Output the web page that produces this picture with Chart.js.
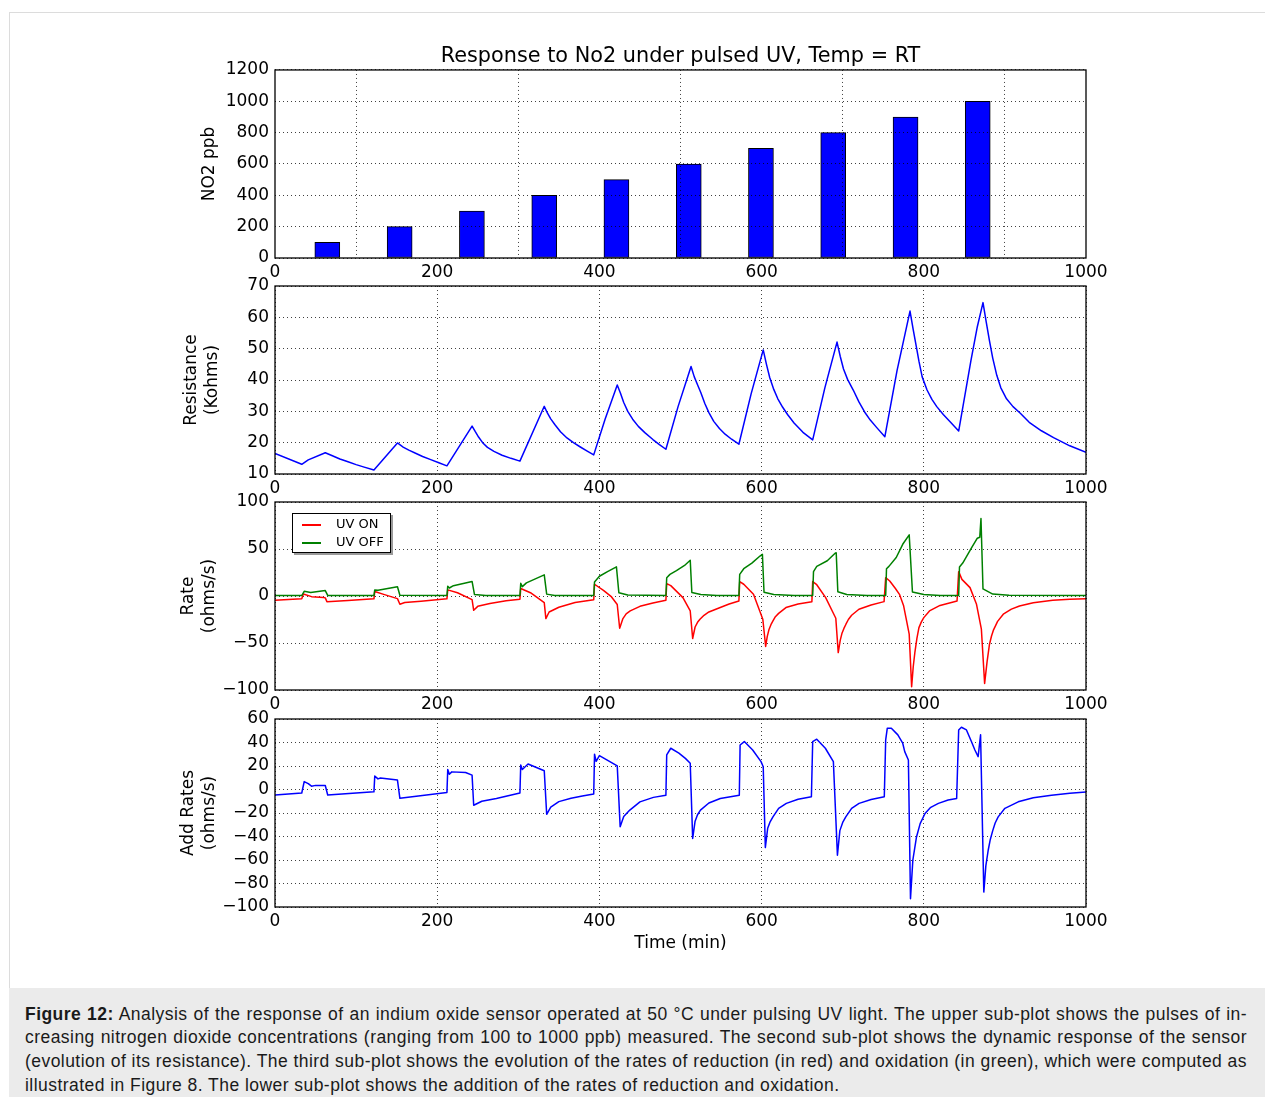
<!DOCTYPE html>
<html>
<head>
<meta charset="utf-8">
<script src="https://cdn.jsdelivr.net/npm/chart.js@4.4.0/dist/chart.umd.min.js"></script>
<style>
  body { margin: 0; background: #fff; width: 1265px; height: 1097px; position: relative; overflow: hidden; font-family: 'DejaVu Sans', sans-serif; }
  #frame { position: absolute; left: 9px; top: 12px; width: 1262px; height: 977px; border: 1px solid #dcdcdc; box-sizing: border-box; }
  canvas { position: absolute; left: 0; }
  #legend { position: absolute; left: 292px; top: 513px; width: 99px; height: 40px; box-sizing: border-box; border: 1px solid #000; background: #fff; box-shadow: 2px 2px 0 #9a9a9a; font-size: 13px; color: #000; }
  #legend .row { position: absolute; left: 0; width: 95px; height: 16px; line-height: 16px; }
  #legend .sw { position: absolute; left: 9px; top: 8px; width: 19px; height: 1.5px; }
  #legend .lb { position: absolute; left: 43px; top: 0; white-space: nowrap; }
  #caption { position: absolute; left: 9px; top: 988px; width: 1256px; height: 109px; background: #ebebeb; font-family: 'Liberation Sans', Arial, sans-serif; font-size: 17.5px; letter-spacing: 0.45px; color: #1a1a1a; }
  #caption .ln { position: absolute; left: 16px; width: 1222px; height: 24px; line-height: 24px; white-space: nowrap; }
  #caption .j { text-align: justify; text-align-last: justify; }
</style>
</head>
<body>
<div id="frame"></div>
<canvas id="c1" width="1265" height="248" style="top:40px"></canvas>
<canvas id="c2" width="1265" height="238" style="top:266px"></canvas>
<canvas id="c3" width="1265" height="238" style="top:482px"></canvas>
<canvas id="c4" width="1265" height="255" style="top:699px"></canvas>
<div id="legend">
  <div class="row" style="top:2px"><div class="sw" style="background:#ff0000"></div><span class="lb">UV ON</span></div>
  <div class="row" style="top:20px"><div class="sw" style="background:#008000"></div><span class="lb">UV OFF</span></div>
</div>
<div id="caption">
  <div class="ln j" style="top:14px"><b>Figure 12:</b> Analysis of the response of an indium oxide sensor operated at 50 °C under pulsing UV light. The upper sub-plot shows the pulses of in-</div>
  <div class="ln j" style="top:37px">creasing nitrogen dioxide concentrations (ranging from 100 to 1000 ppb) measured. The second sub-plot shows the dynamic response of the sensor</div>
  <div class="ln j" style="top:61px">(evolution of its resistance). The third sub-plot shows the evolution of the rates of reduction (in red) and oxidation (in green), which were computed as</div>
  <div class="ln" style="top:85px">illustrated in Figure 8. The lower sub-plot shows the addition of the rates of reduction and oxidation.</div>
</div>
<script>
// NO2 pulses: centre of each pulse (min) and concentration (ppb)
const pulseTime = [64.5, 153.7, 242.8, 332, 421, 510.2, 599.2, 688.3, 777.5, 866.5];
const no2Ppb = [100, 200, 300, 400, 500, 600, 700, 800, 900, 1000];

// sensor resistance, [time (min), Kohms]
const resistance = [
  [0, 16.6], [33, 13.1], [41, 14.5], [62, 16.8], [70, 15.9], [80, 14.8], [90, 13.9], [100, 13.0], [110, 12.2], [122, 11.3],
  [151, 19.9], [158, 18.6], [165, 17.6], [172, 16.8], [182, 15.6], [192, 14.6], [202, 13.6], [212, 12.6],
  [243, 25.3], [247, 23.5], [251, 21.8], [256, 20.0], [262, 18.5], [270, 17.2], [280, 16.0], [291, 15.0], [302, 14.1],
  [332, 31.6], [336, 29.4], [340, 27.6], [345, 25.8], [352, 23.5], [360, 21.5], [368, 20.0], [376, 18.7], [385, 17.3], [393, 16.1],
  [407, 27.5], [422, 38.4], [426, 35.8], [430, 32.8], [435, 30.0], [441, 27.5], [448, 25.2], [456, 23.2], [466, 21.0], [474, 19.4], [482, 17.9],
  [497, 31.5], [513, 44.3], [517, 41.0], [521, 38.5], [525, 36.0], [530, 32.5], [535, 29.6], [541, 26.8], [548, 24.5], [555, 22.7], [563, 21.1], [572, 19.5],
  [587, 35.5], [602, 49.6], [606, 45.0], [610, 40.8], [615, 37.0], [620, 34.0], [626, 31.3], [632, 29.0], [640, 26.3], [651, 23.3], [663, 20.9],
  [678, 37.5], [693, 52.1], [697, 47.5], [701, 43.5], [706, 40.2], [713, 36.8], [720, 33.0], [727, 29.8], [734, 27.2], [742, 24.8], [752, 21.9],
  [767, 43.0], [783, 62.0], [787, 56.0], [791, 50.3], [794, 46.0], [798, 41.0], [804, 36.8], [810, 33.8], [816, 31.5], [824, 29.0], [833, 26.5], [843, 23.7],
  [858, 46.0], [866, 57.0], [873, 64.7], [877, 58.5], [881, 52.5], [885, 47.0], [890, 41.5], [895, 37.5], [902, 34.0], [910, 31.5], [919, 29.4],
  [930, 26.5], [945, 23.8], [960, 21.6], [980, 19.0], [1000, 16.9]
];

// reduction rate under UV (red), [time, ohms/s]
const uvOn = [
  [0, -4.6], [33, -3.0], [35, 2.2], [45, -0.7], [60, -1.5], [62, -2.0], [64, -6.0], [90, -4.8], [122, -3.0],
  [123, 4.8], [135, 1.5], [151, -2.8], [154, -8.8], [160, -7.0], [180, -5.5], [212, -3.0],
  [213, 6.5], [225, 3.5], [243, -3.9], [245, -15.2], [250, -11.0], [265, -8.0], [285, -5.0], [302, -3.5],
  [303, 8.0], [315, 3.5], [332, -7.0], [334, -24.0], [338, -17.0], [350, -12.0], [370, -7.0], [393, -4.0],
  [394, 12.5], [405, 6.0], [415, -1.0], [422, -9.0], [425, -34.3], [429, -24.0], [433, -19.0], [438, -15.9], [450, -11.0], [466, -7.5], [482, -4.6],
  [483, 13.1], [488, 11.0], [503, -1.7], [512, -15.9], [515, -45.2], [518, -33.0], [521, -28.0], [524, -24.8], [529, -20.5], [535, -17.0], [549, -12.3], [560, -8.5], [572, -5.3],
  [573, 15.3], [578, 12.5], [590, 1.8], [601.5, -24.7], [605, -53.7], [607, -43.0], [609, -36.0], [611.5, -30.5], [614, -26.5], [617, -22.0], [621, -18.5], [630, -12.3], [645, -8.5], [662, -6.0],
  [663, 15.3], [668, 12.0], [679, -1.7], [691.5, -23.7], [694.5, -60.2], [697, -47.0], [699, -40.0], [701.5, -34.5], [704, -30.0], [707, -25.0], [711, -20.5], [720, -14.1], [735, -9.5], [751, -6.0],
  [753, 19.5], [758, 16.0], [765, 8.0], [770, 1.8], [775, -10.0], [778, -23.0], [782, -40.6], [785, -96.6], [787, -75.0], [789, -60.0],
  [791.5, -45.0], [794, -33.6], [797, -27.5], [800, -23.0], [807, -15.9], [820, -10.0], [841, -5.3],
  [843, 25.9], [847, 17.7], [857, 8.9], [865, -8.8], [871, -35.3], [875, -93.0], [878, -70.0], [881, -51.3], [883.5, -42.5], [886, -36.0],
  [891, -27.0], [898, -19.4], [908, -14.0], [918, -10.6], [935, -7.2], [959, -4.6], [980, -3.5], [1000, -2.8]
];

// oxidation rate with UV off (green), [time, ohms/s]
const uvOff = [
  [0, 0.5], [33, 0.5], [36, 5.0], [44, 3.8], [62, 5.8], [65, 0.6], [122, 0.5],
  [123, 6.5], [127, 6.0], [151, 9.8], [154, 0.8], [212, 0.5],
  [213, 10.5], [215, 8.5], [220, 11.0], [243, 15.5], [246, 1.5], [260, 0.5], [302, 0.5],
  [303, 13.5], [305, 10.0], [310, 14.0], [332, 22.5], [335, 2.0], [345, 0.5], [393, 0.5],
  [394, 15.0], [400, 21.0], [410, 26.0], [421, 31.0], [424, 3.5], [435, 1.0], [482, 0.5],
  [483, 19.5], [487, 23.0], [495, 27.0], [505, 32.5], [512, 38.0], [514, 3.8], [525, 1.5], [545, 0.5], [572, 0.5],
  [573, 23.0], [578, 29.0], [588, 35.0], [598, 42.5], [601, 44.3], [603, 4.0], [615, 1.5], [640, 0.5], [663, 0.5],
  [664, 26.0], [668, 31.5], [681, 37.5], [690, 45.0], [692, 46.0], [694, 4.5], [705, 1.5], [730, 0.5], [753, 0.5],
  [754, 29.0], [757, 31.5], [766, 41.0], [774, 55.0], [782, 65.0], [786, 4.3], [800, 1.5], [820, 0.5], [843, 0.5],
  [844, 30.8], [848, 35.0], [859, 51.4], [866, 61.5], [869, 62.5], [870.5, 82.5], [873, 7.5], [885, 2.0], [905, 0.8], [1000, 0.5]
];

// sum of both rates (blue), [time, ohms/s]
const addRates = [
  [0, -4.7], [33, -3.0], [36, 6.7], [41, 5.0], [45, 2.8], [50, 3.5], [62, 3.4], [65, -4.7], [122, -2.0],
  [123, 11.4], [127, 9.0], [130, 9.8], [151, 8.0], [154, -7.5], [212, -2.5],
  [213, 17.1], [215, 13.0], [218, 15.0], [235, 14.5], [243, 12.2], [245, -13.4], [255, -10.0], [273, -7.6], [302, -3.0],
  [303, 20.8], [305, 17.0], [312, 21.7], [332, 16.0], [335, -21.1], [340, -15.0], [350, -10.3], [365, -7.5], [379, -5.5], [393, -3.8],
  [394, 30.1], [396, 24.0], [400, 28.9], [422, 20.1], [425.6, -31.7], [430, -23.0], [437.5, -17.5], [450, -10.5], [466.6, -6.7], [482, -4.8],
  [483, 29.4], [488, 35.1], [498, 31.0], [506, 26.5], [512, 22.3], [515, -41.7], [518, -27.0], [521, -21.5], [524.6, -17.6], [535, -11.5], [549, -7.6], [572.5, -4.8],
  [573.5, 37.9], [578.7, 40.8], [589, 33.6], [599.3, 23.7], [602, 19.4], [604.6, -49.4], [607.5, -33.0], [610.5, -27.5], [614, -23.3], [621, -16.0], [630.5, -11.8], [645, -8.3], [661.4, -6.2],
  [663, 40.8], [668, 42.8], [678.6, 35.1], [688.5, 23.7], [693.5, -56.0], [696.5, -35.0], [700, -28.0], [703.8, -23.3], [711, -16.0], [720.2, -11.8], [735, -8.5], [751.3, -6.2],
  [753, 42.2], [755, 52.2], [760, 52.2], [768, 46.5], [774, 39.4], [776.5, 32.2], [781, 25.1], [783.6, -93.0], [786.5, -60.0],
  [791, -40.4], [795.5, -29.0], [801.5, -20.4], [808, -15.5], [818, -11.8], [830, -9.0], [840.5, -7.6],
  [843, 50.7], [846.4, 53.0], [852.6, 50.7], [858.7, 40.8], [863, 33.6], [867, 28.0], [870, 46.5], [874, -87.3], [876.5, -65.0],
  [879.4, -51.7], [882, -42.5], [885, -35.0], [888, -28.5], [891.7, -23.3], [900, -16.0], [916.4, -10.5], [935, -7.0], [957.5, -4.8], [980, -3.2], [1000, -2.1]
];

Chart.defaults.font.family = 'DejaVu Sans';
Chart.defaults.color = '#000';

const tickFont = { size: 17, lineHeight: 1.2 };
const labelFont = { size: 17, lineHeight: 1.25 };
const gridColor = 'rgba(0,0,0,0.75)';

// matplotlib style minus sign, no thousands separator
function fmt(v) {
  return v < 0 ? '\u2212' + Math.abs(v) : String(v);
}

// black box around each plot area
const framePlugin = {
  id: 'frame',
  afterDraw(chart) {
    const a = chart.chartArea;
    const ctx = chart.ctx;
    ctx.save();
    ctx.strokeStyle = '#000';
    ctx.lineWidth = 1.3;
    ctx.strokeRect(a.left, a.top, a.right - a.left, a.bottom - a.top);
    ctx.restore();
  }
};

function xAxis(height, title, onTop) {
  return {
    type: 'linear', min: 0, max: 1000, offset: false,
    ticks: { stepSize: 200, font: tickFont, padding: 4, maxRotation: 0, autoSkip: false, color: '#000', callback: v => fmt(v) },
    grid: { color: gridColor, drawTicks: false, lineWidth: 1, z: onTop ? 1 : 0 },
    border: { display: false, dash: [1, 3] },
    title: title ? { display: true, text: title, font: labelFont, color: '#000', padding: 0 } : { display: false },
    afterFit: s => { s.height = height; }
  };
}

function yAxis(min, max, step, label, width, onTop) {
  return {
    min: min, max: max,
    ticks: { stepSize: step, font: tickFont, padding: 6, autoSkip: false, color: '#000', callback: v => fmt(v) },
    grid: { color: gridColor, drawTicks: false, lineWidth: 1, z: onTop ? 1 : 0 },
    border: { display: false, dash: [1, 3] },
    title: { display: true, text: label, font: labelFont, color: '#000', padding: 0 },
    afterFit: s => { s.width = width; }
  };
}

function toPoints(pairs) {
  return pairs.map(p => ({ x: p[0], y: p[1] }));
}

function lineSet(pairs, color, order) {
  return {
    data: toPoints(pairs),
    borderColor: color,
    borderWidth: 1.5,
    pointRadius: 0,
    fill: false,
    tension: 0,
    borderJoinStyle: 'round',
    order: order
  };
}

function baseOptions(padLeft, padTop, scales, title) {
  return {
    responsive: false,
    maintainAspectRatio: false,
    animation: false,
    events: [],
    layout: { padding: { left: padLeft, top: padTop, right: 179, bottom: 0 } },
    plugins: {
      legend: { display: false },
      tooltip: { enabled: false },
      title: title || { display: false }
    },
    scales: scales
  };
}

// panel 1: NO2 pulses
new Chart(document.getElementById('c1'), {
  type: 'bar',
  data: {
    datasets: [{
      data: pulseTime.map((t, i) => ({ x: t, y: no2Ppb[i] })),
      backgroundColor: '#0000ff',
      borderColor: '#000',
      borderWidth: 1,
      borderSkipped: false,
      barThickness: 25
    }]
  },
  options: baseOptions(199, 4, {
    x: xAxis(30, null, true),
    y: yAxis(0, 1200, 200, 'NO2 ppb', 76, true)
  }, {
    display: true,
    text: 'Response to No2 under pulsed UV, Temp = RT',
    font: { size: 20.8, weight: 'normal', lineHeight: 1.2 },
    color: '#000',
    padding: { top: 0, bottom: 1 },
    fullSize: false
  }),
  plugins: [framePlugin]
});

// panel 2: resistance
new Chart(document.getElementById('c2'), {
  type: 'line',
  data: { datasets: [lineSet(resistance, '#0000ff', 0)] },
  options: baseOptions(181, 20, {
    x: xAxis(30, null),
    y: yAxis(10, 70, 10, ['Resistance', '(Kohms)'], 94)
  }),
  plugins: [framePlugin]
});

// panel 3: reduction / oxidation rates
new Chart(document.getElementById('c3'), {
  type: 'line',
  data: { datasets: [lineSet(uvOn, '#ff0000', 1), lineSet(uvOff, '#008000', 0)] },
  options: baseOptions(178, 20, {
    x: xAxis(30, null),
    y: yAxis(-100, 100, 50, ['Rate', '(ohms/s)'], 97)
  }),
  plugins: [framePlugin]
});

// panel 4: added rates
new Chart(document.getElementById('c4'), {
  type: 'line',
  data: { datasets: [lineSet(addRates, '#0000ff', 0)] },
  options: baseOptions(178, 20, {
    x: xAxis(47, 'Time (min)'),
    y: yAxis(-100, 60, 20, ['Add Rates', '(ohms/s)'], 97)
  }),
  plugins: [framePlugin]
});
</script>
</body>
</html>
